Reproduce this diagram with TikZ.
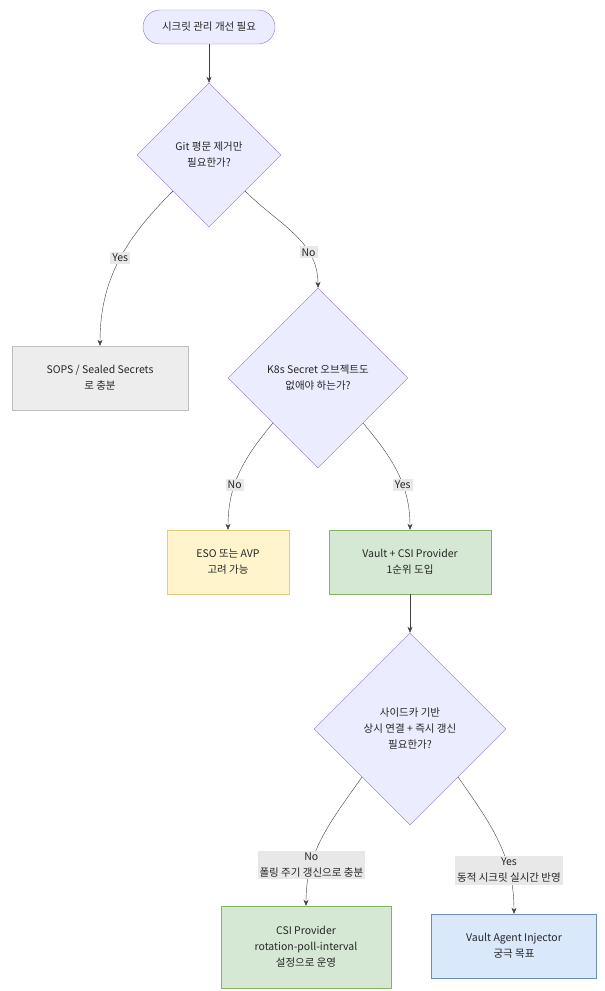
\documentclass[tikz,border=0pt]{standalone}
\usepackage{fontspec}
\setmainfont{Noto Sans CJK KR}
\usepackage{tikz}
\usetikzlibrary{positioning, arrows.meta, shapes.geometric}
\definecolor{qfill}{HTML}{ECECFF}
\definecolor{qline}{HTML}{9370DB}
\definecolor{lbl}{HTML}{E8E8E8}
\definecolor{yfill}{HTML}{FFF4CC}
\definecolor{yline}{HTML}{E6CC7A}
\definecolor{gfill}{HTML}{D5E8D4}
\definecolor{gline}{HTML}{82B366}
\definecolor{bfill}{HTML}{DAE8FC}
\definecolor{bline}{HTML}{6C8EBF}
\begin{document}
\begin{tikzpicture}[x=1pt, y=-1pt, font=\fontsize{10.5}{16}\selectfont, color=black!80,
  box/.style={draw, thin, align=center, minimum height=64pt, text=black!85},
  ask/.style={diamond, draw=qline, fill=qfill, thin, align=center, aspect=1, inner sep=0pt, text=black!85},
  lab/.style={fill=lbl, align=center, inner sep=2pt, text=black!85},
  edge/.style={thin, draw=black!75, -{Stealth[length=6pt,width=5pt]}}]
\useasboundingbox (0,0) rectangle (605,991);

\node[draw=qline, fill=qfill, thin, rounded corners=17pt, minimum width=132pt, minimum height=34pt, text=black!85] (start) at (209,27) {시크릿 관리 개선 필요};
\node[ask, minimum size=144pt] (q1) at (209,155) {Git 평문 제거만\\필요한가?};
\node[box, fill=black!7, draw=black!25, minimum width=176pt] (sops) at (100,378) {SOPS / Sealed Secrets\\로 충분};
\node[ask, minimum size=180pt] (q2) at (318,378) {K8s Secret 오브젝트도\\없애야 하는가?};
\node[box, fill=yfill, draw=yline, minimum width=122pt] (eso) at (228,562) {ESO 또는 AVP\\고려 가능};
\node[box, fill=gfill, draw=gline, minimum width=162pt] (csi) at (410,562) {Vault + CSI Provider\\1순위 도입};
\node[ask, minimum size=192pt] (q3) at (410,729) {사이드카 기반\\상시 연결 + 즉시 갱신\\필요한가?};
\node[box, fill=gfill, draw=gline, minimum width=170pt, minimum height=82pt] (poll) at (306,947) {CSI Provider\\rotation-poll-interval\\설정으로 운영};
\node[box, fill=bfill, draw=bline, minimum width=165pt] (agent) at (514,946) {Vault Agent Injector\\궁극 목표};

\draw[edge] (start) -- (q1);
\draw[edge] (q1.225) to[out=-135, in=90] node[lab, pos=0.48] {Yes} (sops);
\draw[edge] (q1.-45) to[out=-45, in=90] node[lab, pos=0.7] {No} (q2);
\draw[edge] (q2.225) to[out=-130, in=90] node[lab, pos=0.62] {No} (eso);
\draw[edge] (q2.-45) to[out=-50, in=90] node[lab, pos=0.62] {Yes} (csi);
\draw[edge] (csi) -- (q3);
\draw[edge] (q3.225) to[out=-125, in=90] node[lab, pos=0.72] {No\\폴링 주기 갱신으로 충분} (poll);
\draw[edge] (q3.-45) to[out=-55, in=90] node[lab, pos=0.72] {Yes\\동적 시크릿 실시간 반영} (agent);
\end{tikzpicture}
\end{document}
